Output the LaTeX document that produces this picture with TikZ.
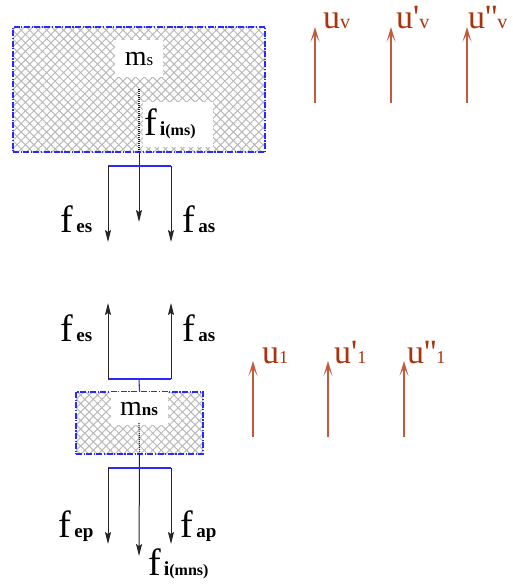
\documentclass[tikz,border=0pt]{standalone}
\usepackage{fontspec}
\setmainfont{Liberation Serif}
\newfontfamily\uf{Liberation Serif}
\usetikzlibrary{arrows.meta,patterns.meta}
\definecolor{ured}{RGB}{170,50,12}
\definecolor{uline}{RGB}{195,90,60}
\definecolor{bblue}{RGB}{40,40,255}
\newcommand\fsb[1]{\hspace{3.5pt}{\fontsize{19}{20}\selectfont\bfseries #1}}
\newcommand\fil[1]{f\hspace{3pt}{\fontsize{20}{20}\selectfont\bfseries i}{\fontsize{16}{16}\selectfont\bfseries (#1)}}
\begin{document}
\begin{tikzpicture}[x=1pt,y=-1pt,
  hbox/.style={draw=bblue, line width=1.1pt, dash pattern=on 6pt off 1.5pt on 1.2pt off 1.5pt,
    pattern={Hatch[angle=45,distance=6pt,line width=1pt]}, pattern color=gray!55, inner sep=0pt},
  brk/.style={bblue, line width=1.1pt},
  fline/.style={line width=1pt, black!85},
  farrow/.style={fline, -{Stealth[length=12pt,width=6pt,inset=2pt]}},
  uarrow/.style={uline, line width=1.2pt, -{Stealth[length=15pt,width=9pt,inset=8pt]}},
  flab/.style={anchor=base west, inner sep=0pt, font=\fontsize{38}{40}\selectfont},
  mlab/.style={fill=white, inner sep=0pt, font=\fontsize{28}{30}\selectfont},
  ulab/.style={anchor=base west, inner sep=0pt, text=ured, font=\uf\fontsize{34}{36}\selectfont},
]
\useasboundingbox (0,0) rectangle (512,586);

% ---------- top mass ----------
\node[hbox, minimum width=252pt, minimum height=125pt] (top) at (139,89.5) {};
\node[mlab, minimum width=48pt, minimum height=37pt] (ms) at (139,58.5) {m{\fontsize{17}{17}\selectfont s}};
\node[fill=white, inner sep=0pt, minimum width=70pt, minimum height=45pt] (fibg) at (178,124.5) {};
\node[flab] (fims) at (144,135) {\fil{ms}};
\coordinate (d1) at (139,89);
\draw[fline, densely dotted, line width=1.2pt] (d1) -- (top.south);
\coordinate (c1) at (139,222);
\draw[farrow] (top.south) -- (c1);
\coordinate (b1l) at (108,166);
\coordinate (b1r) at (171,166);
\draw[brk] (b1l) -- (b1r);
\coordinate (t1l) at (108,242);
\coordinate (t1r) at (171,242);
\draw[farrow] (b1l) -- (t1l);
\draw[farrow] (b1r) -- (t1r);
\node[flab] (fes1) at (60,232) {f\fsb{es}};
\node[flab] (fas1) at (182,232) {f\fsb{as}};

% ---------- top right arrows ----------
\coordinate (uv0) at (315,103); \coordinate (uv1) at (315,27);
\coordinate (uvp0) at (391,103); \coordinate (uvp1) at (391,27);
\coordinate (uvpp0) at (467,103); \coordinate (uvpp1) at (467,27);
\draw[uarrow] (uv0) -- (uv1);
\draw[uarrow] (uvp0) -- (uvp1);
\draw[uarrow] (uvpp0) -- (uvpp1);
\node[ulab] (luv) at (323,29) {u{\fontsize{20}{20}\selectfont v}};
\node[ulab] (luvp) at (396,29) {u'{\fontsize{20}{20}\selectfont v}};
\node[ulab] (luvpp) at (468,29) {u''{\fontsize{20}{20}\selectfont v}};

% ---------- bottom mass ----------
\node[hbox, minimum width=127pt, minimum height=62pt] (bot) at (139.5,423) {};
\node[mlab, minimum width=57pt, minimum height=33pt] (mns) at (139,408.5) {m{\fontsize{17}{17}\selectfont\bfseries ns}};
\coordinate (bj) at (139,379);
\draw[brk] (bot.north) -- (bj);
\coordinate (b2l) at (108,379);
\coordinate (b2r) at (171,379);
\draw[brk] (b2l) -- (b2r);
\coordinate (t2l) at (108,303);
\coordinate (t2r) at (171,303);
\draw[farrow] (b2l) -- (t2l);
\draw[farrow] (b2r) -- (t2r);
\node[flab] (fes2) at (60,341) {f\fsb{es}};
\node[flab] (fas2) at (182,341) {f\fsb{as}};

\coordinate (d2) at (139,423);
\draw[fline, densely dotted, line width=1.2pt] (d2) -- (bot.south);
\coordinate (c2) at (139,556);
\draw[farrow] (bot.south) -- (c2);
\coordinate (b3l) at (108,468);
\coordinate (b3r) at (171,468);
\draw[brk] (b3l) -- (b3r);
\coordinate (t3l) at (108,544);
\coordinate (t3r) at (171,544);
\draw[farrow] (b3l) -- (t3l);
\draw[farrow] (b3r) -- (t3r);
\node[flab] (fep) at (58,537) {f\fsb{ep}};
\node[flab] (fap) at (180,537) {f\fsb{ap}};
\node[flab] (fimns) at (148,575) {\fil{mns}};

% ---------- bottom right arrows ----------
\coordinate (u10) at (253,437); \coordinate (u11) at (253,361);
\coordinate (u1p0) at (328,437); \coordinate (u1p1) at (328,361);
\coordinate (u1pp0) at (404,437); \coordinate (u1pp1) at (404,361);
\draw[uarrow] (u10) -- (u11);
\draw[uarrow] (u1p0) -- (u1p1);
\draw[uarrow] (u1pp0) -- (u1pp1);
\node[ulab] (lu1) at (262,363) {u{\fontsize{18}{18}\selectfont 1}};
\node[ulab] (lu1p) at (334,363) {u'{\fontsize{18}{18}\selectfont 1}};
\node[ulab] (lu1pp) at (407,363) {u''{\fontsize{18}{18}\selectfont 1}};
\end{tikzpicture}
\end{document}
